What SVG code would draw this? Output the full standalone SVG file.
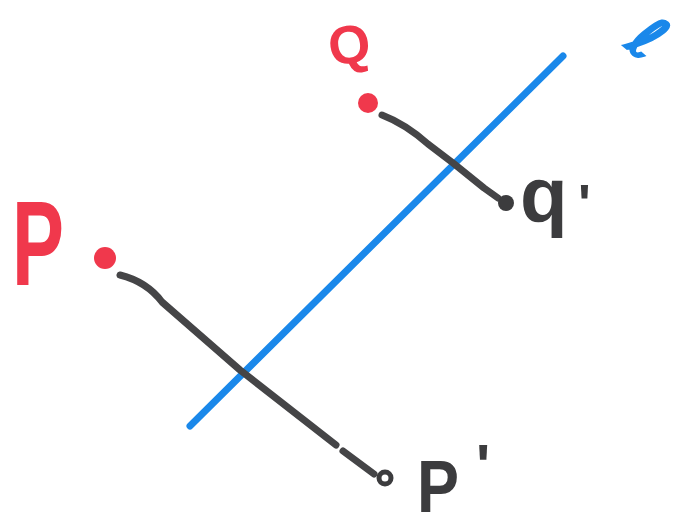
<svg xmlns="http://www.w3.org/2000/svg" width="681" height="529" viewBox="0 0 681 529">
<style>
.red{fill:#f0384c}
.lbl{font-family:"Liberation Sans",Arial,sans-serif;font-weight:bold}
.ink{fill:#3c3c3e}
.seg{fill:none;stroke:#454547;stroke-width:7;stroke-linecap:round;stroke-linejoin:round}
.mirror{fill:none;stroke:#1a88ea;stroke-width:7;stroke-linecap:round}
</style>
<rect width="681" height="529" fill="#ffffff"/>
<g id="line-l">
<line class="mirror" x1="190" y1="426" x2="563" y2="56"/>
<text x="0" y="0" font-size="62" fill="#1a88ea" stroke="#1a88ea" stroke-width="2.5" font-family="DejaVu Sans,sans-serif" text-anchor="middle" dominant-baseline="central" transform="translate(648,38) rotate(40)">ℓ</text>
</g>
<g id="connectors">
<path class="seg" d="M120,275 C136,279 150,286 162,302 L240,370 L336,445"/>
<path class="seg" d="M343,451 L374,474"/>
<circle cx="385" cy="478" r="6" fill="none" stroke="#3c3c3e" stroke-width="5"/>
<path class="seg" d="M382,115 C395,120 410,128 428,144 L453,163 L484,188 L498,198"/>
<circle cx="506" cy="203" r="8" class="ink"/>
</g>
<g id="P">
<circle cx="105" cy="258" r="11" class="red"/>
<text class="lbl red" x="12" y="285" font-size="120" textLength="52" lengthAdjust="spacingAndGlyphs">P</text>
</g>
<g id="Q">
<circle cx="368" cy="103" r="10" class="red"/>
<text class="lbl red" x="0" y="0" font-size="54" transform="translate(331,66) rotate(-8)">Q</text>
</g>
<g id="P-prime">
<text class="lbl ink" x="417" y="512" font-size="74" textLength="42" lengthAdjust="spacingAndGlyphs">P</text>
<text class="lbl ink" x="476" y="486" font-size="60">'</text>
</g>
<g id="Q-prime">
<text class="lbl ink" x="520" y="222" font-size="78">q</text>
<text class="lbl ink" x="578" y="222" font-size="54">'</text>
</g>
</svg>
